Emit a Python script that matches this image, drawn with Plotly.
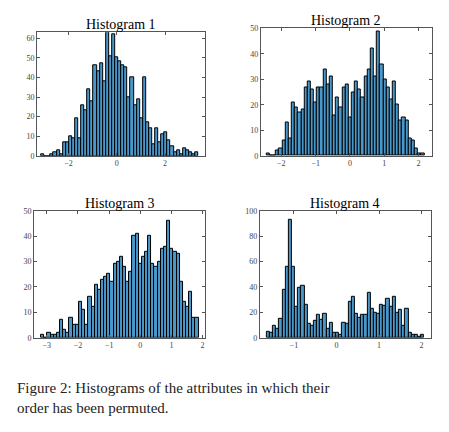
import plotly.graph_objects as go

h1_counts = [1,0,0,1,2,3,1,7,7,10,9,19,9,26,23,34,28,46,43,47,38,63,51,62,50,48,46,45,30,40,26,29,19,40,17,14,6,14,7,11,12,8,5,2,3,1,4,3,2,1,2]
h1_edges = (-3.13, 3.38)
h2_counts = [1,0,0,2,3,6,13,7,21,19,17,18,27,29,26,21,27,27,34,28,31,16,23,19,27,28,15,25,29,26,23,31,34,42,31,49,36,30,27,22,29,20,14,15,14,7,6,3,1,1]
h2_edges = (-2.43, 2.17)
h3_counts = [1,0,2,1,1,2,7,3,2,8,5,5,14,11,5,16,12,21,19,23,24,25,22,29,30,32,28,22,26,40,41,29,32,34,40,29,28,30,35,36,46,35,34,33,22,14,12,18,8,8]
h3_edges = (-3.18, 1.87)
h4_counts = [5,4,9,7,15,38,56,93,56,24,39,41,26,11,9,13,18,14,19,7,12,4,4,2,12,11,28,32,19,16,18,18,35,23,20,19,26,25,31,24,32,20,22,9,23,4,2,2,1,2]
h4_edges = (-1.64, 2.06)

titles = ["Histogram 1", "Histogram 2", "Histogram 3", "Histogram 4"]
xranges = [(-3.3, 3.66), (-2.6, 2.39), (-3.41, 2.08), (-1.8, 2.22)]
yranges = [(0, 63), (0, 50), (0, 50), (0, 100)]
xticks = [[-2, 0, 2], [-2, -1, 0, 1, 2], [-3, -2, -1, 0, 1, 2], [-1, 0, 1, 2]]
yticks = [list(range(0, 61, 10)), list(range(0, 51, 10)), list(range(0, 51, 10)), list(range(0, 101, 20))]
xdoms = [(0.065, 0.439), (0.563, 0.944), (0.058, 0.439), (0.561, 0.942)]
ydoms = [(0.660, 0.952), (0.660, 0.961), (0.230, 0.530), (0.230, 0.530)]

data = [(h1_counts, h1_edges), (h2_counts, h2_edges), (h3_counts, h3_edges), (h4_counts, h4_edges)]
font = "Liberation Serif, DejaVu Serif, serif"
fig = go.Figure()
layout = {}
for i, (counts, (a, b)) in enumerate(data):
    n = len(counts)
    w = (b - a) / n
    xs = [a + w * (k + 0.5) for k in range(n)]
    ax = "" if i == 0 else str(i + 1)
    fig.add_trace(go.Bar(x=xs, y=counts, width=w, xaxis="x" + ax, yaxis="y" + ax,
                         marker=dict(color="#4a97c9", line=dict(color="black", width=1)),
                         showlegend=False))
    common = dict(showline=True, mirror="ticks", linecolor="#555", linewidth=1, ticks="inside",
                  ticklen=3, tickcolor="#555", showgrid=False, zeroline=False,
                  tickfont=dict(size=8, color="#444", family=font))
    layout["xaxis" + ax] = dict(domain=xdoms[i], range=xranges[i], tickvals=xticks[i],
                                anchor="y" + ax, **common)
    layout["yaxis" + ax] = dict(domain=ydoms[i], range=yranges[i], tickvals=yticks[i],
                                anchor="x" + ax, **common)
    fig.add_annotation(text=titles[i], xref="paper", yref="paper",
                       x=(xdoms[i][0] + xdoms[i][1]) / 2, y=ydoms[i][1], xanchor="center",
                       yanchor="bottom", yshift=-2,
                       showarrow=False, font=dict(size=14, family=font, color="black"))

fig.add_annotation(text="Figure 2: Histograms of the attributes in which their<br>order has been permuted.",
                   xref="paper", yref="paper", x=0.015, y=0.135, xanchor="left", yanchor="top",
                   align="left", showarrow=False, font=dict(size=15, family=font, color="#222"))
fig.update_layout(width=449, height=432, margin=dict(l=0, r=0, t=0, b=0),
                  plot_bgcolor="white", paper_bgcolor="white", bargap=0, **layout)
fig.write_html("out.html")
